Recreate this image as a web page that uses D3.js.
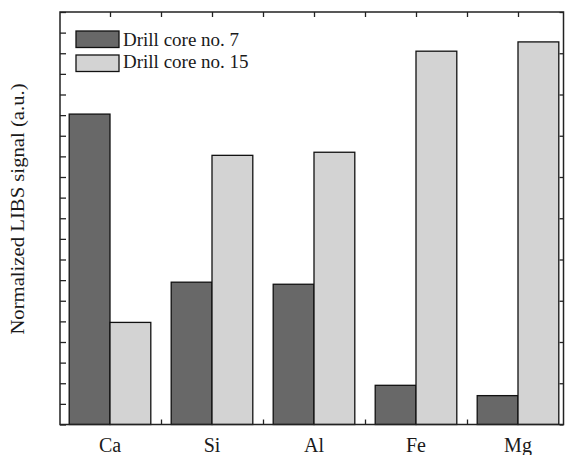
<!DOCTYPE html>
<html>
<head>
<meta charset="utf-8">
<script src="https://cdn.jsdelivr.net/npm/d3@7"></script>
<style>
  body { margin: 0; background: #fff; }
</style>
</head>
<body>
<svg width="565" height="455"></svg>
<script>
  // element categories and the two drill cores
  const elements = ['Ca', 'Si', 'Al', 'Fe', 'Mg'];
  const seriesNames = ['Drill core no. 7', 'Drill core no. 15'];
  const core7 = [15.05, 6.9, 6.8, 1.9, 1.4];
  const core15 = [4.95, 13.05, 13.2, 18.1, 18.55];
  const yTicks = d3.range(0, 21, 1);

  const svg = d3.select('svg');
  const colors = ['#686868', '#d3d3d3'];
  const serif = "'Liberation Serif', 'DejaVu Serif', serif";

  const frame = { left: 60, right: 563.5, top: 12, bottom: 424.5 };

  const x = d3.scaleBand()
    .domain(elements)
    .range([59, 569])
    .paddingInner(0.2)
    .paddingOuter(0.1);
  const xSub = d3.scaleBand()
    .domain(seriesNames)
    .range([0, x.bandwidth()]);
  const y = d3.scaleLinear()
    .domain([0, 20])
    .range([frame.bottom, frame.top]);
  // index scale for ticks at group centres and midpoints
  const xi = d3.scaleLinear()
    .domain([0, elements.length - 1])
    .range([x(elements[0]) + x.bandwidth() / 2, x(elements[4]) + x.bandwidth() / 2]);
  const xTickVals = d3.range(0, 4.01, 0.5);

  const tickStyle = g => {
    g.select('.domain').remove();
    g.selectAll('.tick line').attr('stroke', '#222').attr('stroke-width', 1.3);
    g.selectAll('.tick text').remove();
  };

  svg.append('g')
    .attr('transform', `translate(${frame.left},0)`)
    .call(d3.axisLeft(y).tickValues(yTicks).tickSize(-6).tickFormat(''))
    .call(tickStyle);
  svg.append('g')
    .attr('transform', `translate(${frame.right},0)`)
    .call(d3.axisRight(y).tickValues(d3.range(0, 21, 2)).tickSize(-4).tickFormat(''))
    .call(tickStyle);
  svg.append('g')
    .attr('transform', `translate(0,${frame.top})`)
    .call(d3.axisTop(xi).tickValues(xTickVals).tickSize(-5).tickFormat(''))
    .call(tickStyle);
  svg.append('g')
    .attr('transform', `translate(0,${frame.bottom})`)
    .call(d3.axisBottom(xi).tickValues(xTickVals).tickSize(-5).tickFormat(''))
    .call(tickStyle);

  // bars
  const rows = elements.map((e, i) => ({ el: e, vals: [core7[i], core15[i]] }));
  const groups = svg.append('g').selectAll('g').data(rows)
    .enter().append('g')
    .attr('transform', d => `translate(${x(d.el)},0)`);
  groups.selectAll('rect')
    .data(d => d.vals.map((v, k) => ({ v, k })))
    .enter().append('rect')
    .attr('x', d => xSub(seriesNames[d.k]))
    .attr('y', d => y(d.v))
    .attr('width', xSub.bandwidth())
    .attr('height', d => frame.bottom - y(d.v))
    .attr('fill', d => colors[d.k])
    .attr('stroke', '#111')
    .attr('stroke-width', 1.3);

  // frame
  svg.append('rect')
    .attr('x', frame.left).attr('y', frame.top)
    .attr('width', frame.right - frame.left).attr('height', frame.bottom - frame.top)
    .attr('fill', 'none')
    .attr('stroke', '#222')
    .attr('stroke-width', 1.5);

  // x labels
  svg.append('g').selectAll('text').data(elements)
    .enter().append('text')
    .attr('x', d => x(d) + x.bandwidth() / 2)
    .attr('y', 452)
    .attr('text-anchor', 'middle')
    .attr('font-family', serif)
    .attr('font-size', 20)
    .attr('fill', '#1a1a1a')
    .text(d => d);

  // y label
  svg.append('text')
    .attr('transform', `translate(24,209) rotate(-90) scale(1.12,1)`)
    .attr('text-anchor', 'middle')
    .attr('font-family', serif)
    .attr('font-size', 18.5)
    .attr('fill', '#1a1a1a')
    .text('Normalized LIBS signal (a.u.)');

  // legend
  const legend = svg.append('g').selectAll('g').data(seriesNames)
    .enter().append('g')
    .attr('transform', (d, i) => `translate(76,${31 + i * 24})`);
  legend.append('rect')
    .attr('width', 43).attr('height', 16.5)
    .attr('fill', (d, i) => colors[i])
    .attr('stroke', '#111')
    .attr('stroke-width', 1.3);
  legend.append('text')
    .attr('x', 47)
    .attr('y', (d, i) => i === 0 ? 14.5 : 13)
    .attr('font-family', serif)
    .attr('font-size', 19)
    .attr('fill', '#1a1a1a')
    .text(d => d);
</script>
</body>
</html>
